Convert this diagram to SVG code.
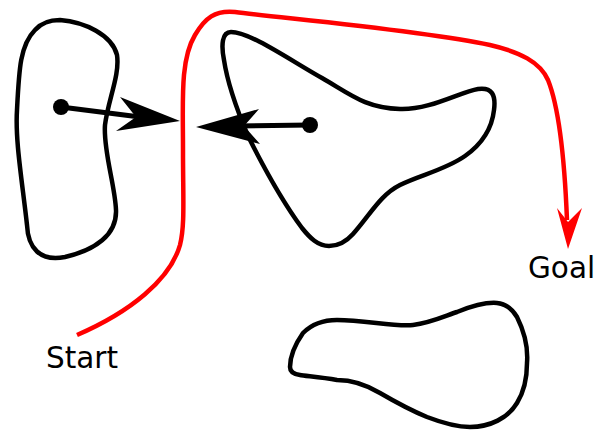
<svg xmlns="http://www.w3.org/2000/svg" width="595" height="431" viewBox="0 0 595 431">
<style>
.blob{fill:none;stroke:#000;stroke-width:4.5;stroke-linejoin:round}
.vec{stroke:#000;stroke-width:5;fill:none}
.lbl{font-family:"DejaVu Sans",sans-serif;font-size:29.5px;fill:#000}
</style>
<rect width="595" height="431" fill="#fff"/>
<g id="obstacle-left">
<path class="blob" d="M 60,20 C 85,22 112,35 117,55 C 120,75 108,100 105,125 C 103,150 115,185 116,210 C 117,235 95,250 65,257 C 40,262 28,248 27,225 C 22,180 15,140 17,110 C 19,70 20,45 35,30 C 42,22 50,20 60,20 Z"/>
</g>
<g id="obstacle-middle">
<path class="blob" d="M 231,32 C 250,32 290,60 322,78 C 350,94 365,108 400,109 C 430,110 460,92 478,89 C 492,87 496,95 494,110 C 492,128 482,144 465,156 C 445,170 420,175 400,185 C 380,195 370,215 353,234 C 345,243 338,246 329,246 C 318,246 310,238 302,228 C 285,205 265,170 248,136 C 237,110 227,80 224,60 C 221,45 222,32 231,32 Z"/>
</g>
<g id="obstacle-bottom">
<path class="blob" d="M 290,367 C 290,355 296,343 303,333 C 312,324 325,320 337,320 C 365,320 395,327 413,325 C 430,323 445,316 457,312 C 472,306 485,302 497,303 C 508,304 514,312 517,317 C 525,333 528,350 527,363 C 527,383 522,395 517,403 C 508,418 490,427 470,427 C 455,427 440,422 427,417 C 410,410 392,400 380,393 C 365,384 350,380 337,380 C 320,377 305,376 300,375 C 292,374 290,370 290,367 Z"/>
</g>
<g id="connectors">
<line class="vec" x1="61" y1="107" x2="140" y2="117"/>
<circle cx="61" cy="107" r="8"/>
<path d="M 180,121 L 120,97 L 136,117 L 116,131 Z" fill="#000"/>
<line class="vec" x1="310" y1="125" x2="235" y2="126"/>
<circle cx="310" cy="125" r="8"/>
<path d="M 196,127 L 259,109 L 244,126 L 260,144 Z" fill="#000"/>
<path d="M 77,335 C 130,312 170,280 180,245 C 185,225 183,200 183,150 C 183,100 180,60 195,35 C 205,18 215,10 235,12 C 280,18 420,30 490,45 C 520,52 540,62 548,80 C 560,110 565,170 567,220" fill="none" stroke="#f00" stroke-width="4.5"/>
<path d="M 568,249 L 557,208 L 568,222 L 582,208 Z" fill="#f00"/>
</g>
<g id="label-start"><text class="lbl" x="46" y="368">Start</text></g>
<g id="label-goal"><text class="lbl" x="528" y="278">Goal</text></g>
</svg>
